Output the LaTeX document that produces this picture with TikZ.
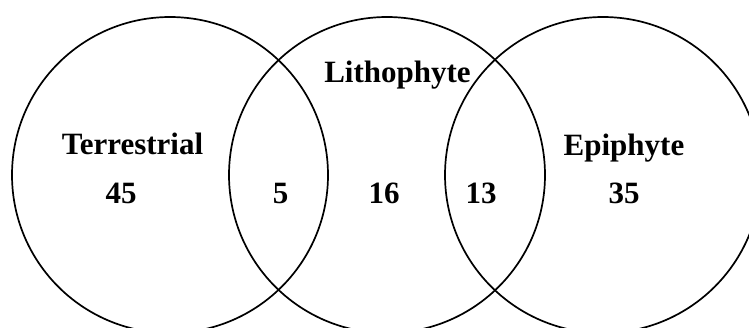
\documentclass[tikz,border=0pt]{standalone}
\usepackage{fontspec}
\setmainfont{Liberation Serif}
\begin{document}
\begin{tikzpicture}[x=1pt,y=-1pt,
  venn/.style={draw=black,line width=1.7pt},
  lbl/.style={font=\fontsize{31}{34}\selectfont\bfseries,inner sep=0pt,anchor=base}]
\useasboundingbox (0,0) rectangle (749,327);
\begin{scope}
\clip (0,0) rectangle (749,327);
\draw[venn] (170,175) circle (158);
\draw[venn] (387,175) circle (158);
\draw[venn] (603,175) circle (158);
\end{scope}
\node[lbl] (terr) at (132.5,154) {Terrestrial};
\node[lbl] (t45) at (121,203) {45};
\node[lbl] (litho) at (397.5,82) {Lithophyte};
\node[lbl] (n5) at (280.5,203) {5};
\node[lbl] (n16) at (384,203) {16};
\node[lbl] (n13) at (481,203) {13};
\node[lbl] (epi) at (624,155) {Epiphyte};
\node[lbl] (e35) at (624,203) {35};
\end{tikzpicture}
\end{document}
